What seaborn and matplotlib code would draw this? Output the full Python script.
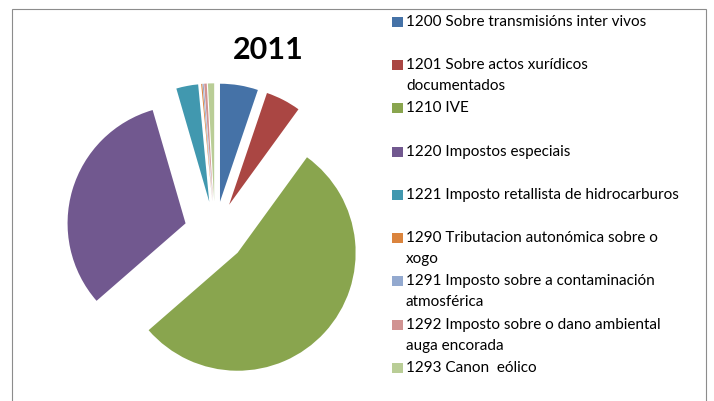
import matplotlib
matplotlib.use("Agg")
import matplotlib.pyplot as plt
from matplotlib.patches import Rectangle
import seaborn as sns

# Shares of 2011 revenue (percent)
labels = [
    "1200 Sobre transmisións inter vivos",
    "1201 Sobre actos xurídicos\ndocumentados",
    "1210 IVE",
    "1220 Impostos especiais",
    "1221 Imposto retallista de hidrocarburos",
    "1290 Tributacion autonómica sobre o\nxogo",
    "1291 Imposto sobre a contaminación\natmosférica",
    "1292 Imposto sobre o dano ambiental\nauga encorada",
    "1293 Canon  eólico",
]
shares = [5.2, 4.8, 53.6, 31.9, 3.0, 0.15, 0.15, 0.35, 0.85]
colors = ["#4572A7", "#AA4643", "#89A54E", "#71588F", "#4198AF",
          "#DB843D", "#93A9CF", "#D19392", "#B9CD96"]

sns.set_theme(style="white")
plt.rcParams["font.family"] = ["Lato", "DejaVu Sans"]

W, H = 714, 401
fig = plt.figure(figsize=(W / 100, H / 100), dpi=100)

# pie axes: centre (215, 232) px, radius 118 px
cx, cy, r_px, L = 215, 232, 118, 1.5
side = 2 * L * r_px
ax = fig.add_axes([(cx - side / 2) / W, (H - cy - side / 2) / H, side / W, side / H])
pal = sns.color_palette(colors)
ax.pie(shares, colors=pal, startangle=90, counterclock=False,
       explode=[0.26] * len(shares), radius=1,
       wedgeprops=dict(linewidth=0))
ax.set_xlim(-L, L)
ax.set_ylim(-L, L)
ax.set_aspect("equal")
ax.axis("off")

fig.text(268 / W, 1 - 50 / H, "2011", ha="center", va="center",
         fontsize=22, fontweight="bold", color="black")

# legend on the right (one slot per entry, wrapped lines 21 px apart)
for i, (lab, col) in enumerate(zip(labels, colors)):
    base = 25.7 + i * 43.3
    fig.add_artist(Rectangle((392 / W, 1 - (base + 1) / H), 11 / W, 10 / H,
                             transform=fig.transFigure, facecolor=col,
                             edgecolor="none"))
    for j, line in enumerate(lab.split("\n")):
        fig.text(406 / W, 1 - (base + j * 21) / H, line, ha="left",
                 va="baseline", fontsize=11, color="black")

# chart frame
fig.add_artist(Rectangle((12 / W, -0.1), (706 - 12) / W, 1.1 - 8.5 / H,
                         transform=fig.transFigure, facecolor="none",
                         edgecolor="#8c8c8c", linewidth=0.8))

fig.savefig("out.png", dpi=100)
